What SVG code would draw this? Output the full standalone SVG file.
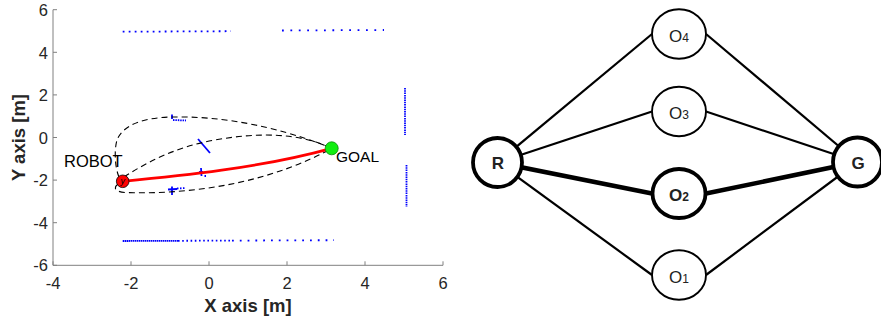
<svg xmlns="http://www.w3.org/2000/svg" width="881" height="320" viewBox="0 0 881 320">
<style>
.ax{stroke:#808080;stroke-width:1;fill:none}
.tk{font-family:"Liberation Sans",Arial,sans-serif;font-size:16.5px;fill:#262626}
.lab{font-family:"Liberation Sans",Arial,sans-serif;font-size:18.5px;font-weight:bold;fill:#262626}
.ann{font-family:"Liberation Sans",Arial,sans-serif;fill:#000}
.dash{stroke:#000;stroke-width:1.1;fill:none;stroke-dasharray:6 4}
.obs{stroke:#0000ff;fill:none;stroke-width:1.8}
.edge{stroke:#000;stroke-width:2.2}
.edgeb{stroke:#000;stroke-width:4.5}
.node{fill:#fff;stroke:#000;stroke-width:1.9}
.nodeb{fill:#fff;stroke:#000;stroke-width:3.8}
.nl{font-family:"Liberation Sans",Arial,sans-serif;font-size:17px;fill:#222;text-anchor:middle}
.sub{font-size:12px}
</style>

<!-- Left plot -->
<g id="plot">
  <g id="axes">
    <line class="ax" x1="53" y1="9.7" x2="53" y2="265.3"/>
    <line class="ax" x1="53" y1="265.3" x2="443" y2="265.3"/>
    <path class="ax" d="M53,9.7h4M53,52.3h4M53,94.9h4M53,137.5h4M53,180.1h4M53,222.7h4M53,265.3h4"/>
    <path class="ax" d="M53,265.3v-4M131,265.3v-4M209,265.3v-4M287,265.3v-4M365,265.3v-4M443,265.3v-4"/>
    <g class="tk" text-anchor="end">
      <text x="48" y="16">6</text>
      <text x="48" y="58.5">4</text>
      <text x="48" y="101">2</text>
      <text x="48" y="143.5">0</text>
      <text x="48" y="186">-2</text>
      <text x="48" y="228.5">-4</text>
      <text x="48" y="271">-6</text>
    </g>
    <g class="tk" text-anchor="middle">
      <text x="53" y="288.5">-4</text>
      <text x="131" y="288.5">-2</text>
      <text x="209" y="288.5">0</text>
      <text x="287" y="288.5">2</text>
      <text x="365" y="288.5">4</text>
      <text x="443" y="288.5">6</text>
    </g>
    <text class="lab" x="248" y="311.5" text-anchor="middle">X axis [m]</text>
    <text class="lab" transform="translate(25,137.5) rotate(-90)" text-anchor="middle">Y axis [m]</text>
  </g>

  <g id="obstacles">
    <line class="obs" x1="122.7" y1="31.7" x2="231" y2="31.2" stroke-dasharray="1.8 4.2"/>
    <line class="obs" x1="282" y1="30.5" x2="384" y2="30" stroke-dasharray="1.8 6.6"/>
    <line class="obs" x1="405" y1="88" x2="405" y2="135" stroke-dasharray="1.5 0.8"/>
    <line class="obs" x1="406.5" y1="165" x2="406.5" y2="207" stroke-dasharray="1.5 0.8"/>
    <line class="obs" x1="122.7" y1="241" x2="178" y2="240.8" stroke-dasharray="1.5 0.5"/>
    <line class="obs" x1="178" y1="240.8" x2="232" y2="240.6" stroke-dasharray="1.6 2.6"/>
    <line class="obs" x1="232" y1="240.6" x2="334" y2="240.2" stroke-dasharray="1.8 6"/>
    <line class="obs" x1="172" y1="114.5" x2="172" y2="119"/>
    <line class="obs" x1="173" y1="120" x2="186" y2="120.5" stroke-dasharray="1.5 0.9"/>
    <line class="obs" x1="198" y1="139" x2="210" y2="153" stroke-width="1.6"/>
    <line class="obs" x1="201" y1="168" x2="201.5" y2="176"/>
    <line class="obs" x1="199" y1="172" x2="203" y2="172" stroke-width="1.2"/>
    <line class="obs" x1="204.5" y1="176" x2="206" y2="176"/>
    <line class="obs" x1="172" y1="186.5" x2="172" y2="195"/>
    <line class="obs" x1="168" y1="189.5" x2="177" y2="189" stroke-width="1.4"/>
    <line class="obs" x1="177" y1="188.5" x2="186" y2="188" stroke-dasharray="1.5 1.5"/>
  </g>

  <g id="paths">
    <path class="dash" d="M119,177 C115,168 114,150 117,140 C123,125 143,117 175,117 C240,116 300,135 331.7,148.3"/>
    <path class="dash" d="M124,177 C150,160 180,146 215,140 C260,132 300,133 331.7,148.3"/>
    <path class="dash" d="M118,184 C113,188 115,192 126,192.5 C200,195 275,180 331.7,148.3"/>
    <path d="M122.7,181.3 C180,176 260,168 331.7,148.3" fill="none" stroke="#ff0000" stroke-width="2.8"/>
  </g>

  <g id="robot">
    <circle cx="122.7" cy="181.3" r="6.3" fill="#ff0000" stroke="#000" stroke-width="0.8"/>
    <text class="ann" x="122.7" y="183.5" font-size="9" font-style="italic" text-anchor="middle">y</text>
    <text class="ann" x="64" y="167" font-size="16.5">ROBOT</text>
  </g>
  <g id="goal">
    <circle cx="331.7" cy="148.3" r="6.5" fill="#11ee11" stroke="#0a8a0a" stroke-width="0.8"/>
    <text class="ann" x="336" y="161.5" font-size="15.5">GOAL</text>
  </g>
</g>

<!-- Right graph -->
<g id="connectors">
  <line class="edge" x1="497.5" y1="162.5" x2="652" y2="34"/>
  <line class="edge" x1="497.5" y1="162.5" x2="652" y2="111.5"/>
  <line class="edgeb" x1="497.5" y1="162.5" x2="652" y2="193.5"/>
  <line class="edge" x1="497.5" y1="162.5" x2="652" y2="275"/>
  <line class="edge" x1="706" y1="34" x2="857.5" y2="162"/>
  <line class="edge" x1="706" y1="111.5" x2="857.5" y2="162"/>
  <line class="edgeb" x1="706" y1="193.5" x2="857.5" y2="162"/>
  <line class="edge" x1="706" y1="275" x2="857.5" y2="162"/>
</g>

<g id="node-R">
  <circle class="nodeb" cx="497.5" cy="162.5" r="24.5"/>
  <text class="nl" x="498" y="168.5" font-size="17" font-weight="bold">R</text>
</g>
<g id="node-G">
  <circle class="nodeb" cx="857.5" cy="162" r="24.5"/>
  <text class="nl" x="858" y="168.5" font-size="17" font-weight="bold">G</text>
</g>
<g id="node-O4">
  <ellipse class="node" cx="679" cy="34" rx="27" ry="24.7"/>
  <text class="nl" x="679" y="41.5">O<tspan class="sub">4</tspan></text>
</g>
<g id="node-O3">
  <ellipse class="node" cx="679" cy="111.5" rx="27" ry="24.7"/>
  <text class="nl" x="679" y="119">O<tspan class="sub">3</tspan></text>
</g>
<g id="node-O2">
  <ellipse class="nodeb" cx="679" cy="193.5" rx="26.5" ry="24.5"/>
  <text class="nl" x="679" y="201.3" font-weight="bold">O<tspan class="sub">2</tspan></text>
</g>
<g id="node-O1">
  <ellipse class="node" cx="679" cy="275" rx="27" ry="24.7"/>
  <text class="nl" x="679" y="282.5">O<tspan class="sub">1</tspan></text>
</g>
</svg>
